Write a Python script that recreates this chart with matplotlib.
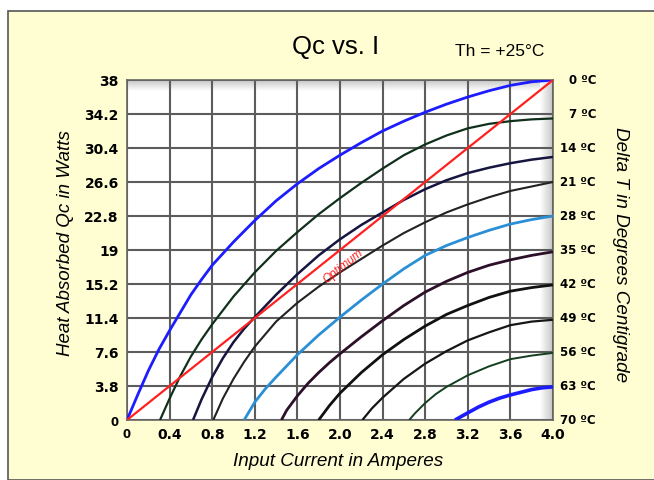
import matplotlib.pyplot as plt
import numpy as np
from matplotlib.patches import Rectangle

plt.rcParams['font.family'] = ['Liberation Sans', 'DejaVu Sans']

# ticks
I_TICKS = [0, 0.4, 0.8, 1.2, 1.6, 2.0, 2.4, 2.8, 3.2, 3.6, 4.0]
I_LABELS = ["0", "0.4", "0.8", "1.2", "1.6", "2.0", "2.4", "2.8", "3.2", "3.6", "4.0"]
Q_TICKS = [0, 3.8, 7.6, 11.4, 15.2, 19, 22.8, 26.6, 30.4, 34.2, 38]
Q_LABELS = ["0", "3.8", "7.6", "11.4", "15.2", "19", "22.8", "26.6", "30.4", "34.2", "38"]
DT_LABELS = ["0 ºC", "7 ºC", "14 ºC", "21 ºC", "28 ºC", "35 ºC",
             "42 ºC", "49 ºC", "56 ºC", "63 ºC", "70 ºC"]

# curves: current (A) -> heat absorbed (W)
i_dt0 = [0, 0.1, 0.2, 0.3, 0.4, 0.5, 0.6, 0.7, 0.8, 1.0, 1.2, 1.4, 1.6, 1.8, 2.0,
         2.2, 2.4, 2.6, 2.8, 3.0, 3.2, 3.4, 3.6, 3.8, 4.0]
q_dt0 = [0, 2.8, 5.5, 7.9, 10.0, 12.0, 14.0, 15.7, 17.3, 19.9, 22.3, 24.5, 26.4, 28.1, 29.6,
         31.0, 32.3, 33.4, 34.4, 35.3, 36.1, 36.8, 37.4, 37.8, 38.0]
i_dt7 = [0.31, 0.4, 0.5, 0.6, 0.7, 0.8, 1.0, 1.2, 1.4, 1.6, 1.8, 2.0, 2.2, 2.4,
         2.6, 2.8, 3.0, 3.2, 3.4, 3.6, 3.8, 4.0]
q_dt7 = [0, 2.4, 4.9, 7.1, 9.0, 10.7, 13.8, 16.5, 18.9, 21.0, 23.0, 24.8, 26.5, 28.1,
         29.6, 30.8, 31.8, 32.6, 33.1, 33.4, 33.6, 33.7]
i_dt14 = [0.62, 0.7, 0.8, 0.9, 1.0, 1.1, 1.2, 1.4, 1.6, 1.8, 2.0, 2.2, 2.4, 2.6,
          2.8, 3.0, 3.2, 3.4, 3.6, 3.8, 4.0]
q_dt14 = [0, 2.3, 4.8, 6.9, 8.7, 10.2, 11.5, 14.0, 16.3, 18.4, 20.2, 21.8, 23.2, 24.6,
          25.8, 26.8, 27.6, 28.2, 28.7, 29.1, 29.4]
i_dt21 = [0.81, 0.9, 1.0, 1.1, 1.2, 1.4, 1.6, 1.8, 2.0, 2.2, 2.4, 2.6, 2.8, 3.0,
          3.2, 3.4, 3.6, 3.8, 4.0]
q_dt21 = [0, 2.4, 4.6, 6.5, 8.2, 11.0, 13.1, 14.9, 16.5, 18.0, 19.5, 20.9, 22.1, 23.2,
          24.1, 24.9, 25.6, 26.1, 26.6]
i_dt28 = [1.10, 1.2, 1.3, 1.4, 1.6, 1.8, 2.0, 2.2, 2.4, 2.6, 2.8, 3.0, 3.2, 3.4,
          3.6, 3.8, 4.0]
q_dt28 = [0, 2.0, 3.5, 4.8, 7.3, 9.5, 11.5, 13.4, 15.2, 16.9, 18.4, 19.5, 20.4, 21.2,
          21.9, 22.4, 22.8]
i_dt35 = [1.45, 1.5, 1.6, 1.7, 1.8, 1.9, 2.0, 2.2, 2.4, 2.6, 2.8, 3.0, 3.2, 3.4,
          3.6, 3.8, 4.0]
q_dt35 = [0, 1.1, 2.7, 4.1, 5.3, 6.4, 7.4, 9.3, 11.1, 12.8, 14.3, 15.5, 16.5, 17.3,
          17.9, 18.4, 18.8]
i_dt42 = [1.80, 1.9, 2.0, 2.2, 2.4, 2.6, 2.8, 3.0, 3.2, 3.4, 3.6, 3.8, 4.0]
q_dt42 = [0, 1.6, 3.0, 5.3, 7.3, 9.0, 10.5, 11.8, 12.8, 13.7, 14.4, 14.8, 15.1]
i_dt49 = [2.21, 2.3, 2.4, 2.6, 2.8, 3.0, 3.2, 3.4, 3.6, 3.8, 4.0]
q_dt49 = [0, 1.3, 2.5, 4.6, 6.3, 7.7, 8.9, 9.8, 10.6, 11.0, 11.2]
i_dt56 = [2.65, 2.7, 2.8, 2.9, 3.0, 3.2, 3.4, 3.6, 3.8, 4.0]
q_dt56 = [0, 0.7, 1.9, 2.9, 3.7, 5.0, 6.0, 6.8, 7.2, 7.5]
i_dt63 = [3.08, 3.2, 3.3, 3.4, 3.5, 3.6, 3.7, 3.8, 3.9, 4.0]
q_dt63 = [0, 0.8, 1.45, 2.0, 2.45, 2.8, 3.1, 3.4, 3.6, 3.7]

# optimum current line
i_opt = [0, 4.0]
q_opt = [0, 38]

CURVES = [
    (i_dt0, q_dt0, "#1c1cff", 2.0),
    (i_dt7, q_dt7, "#10301c", 1.6),
    (i_dt14, q_dt14, "#15153f", 1.8),
    (i_dt21, q_dt21, "#222222", 1.5),
    (i_dt28, q_dt28, "#2b8fd6", 2.0),
    (i_dt35, q_dt35, "#2c1029", 2.0),
    (i_dt42, q_dt42, "#111111", 2.0),
    (i_dt49, q_dt49, "#161616", 1.6),
    (i_dt56, q_dt56, "#143e20", 1.4),
    (i_dt63, q_dt63, "#1c1cff", 2.6),
]

W, H = 654, 481
fig = plt.figure(figsize=(W / 100, H / 100), dpi=100)
fig.patch.set_facecolor("white")
fig.patches.append(Rectangle((8 / W, 0), 1, 1 - 12 / H, transform=fig.transFigure,
                             facecolor="#fffed2", edgecolor="#555555", lw=1.2, zorder=-10))

ax = fig.add_axes([127 / W, 1 - 421 / H, 426 / W, 340 / H])
ax.set_facecolor("white")

# soft inner shading along the top and right edges
grad = np.linspace(0.78, 1.0, 64)
top = np.ones((64, 1, 3)) * grad[:, None, None]
ax.imshow(top, extent=(0, 4.0, 38 - 1.2, 38), aspect="auto", zorder=0.5)
right = np.ones((1, 64, 3)) * grad[::-1][None, :, None]
ax.imshow(right, extent=(4.0 - 0.12, 4.0, 0, 38), aspect="auto", zorder=0.5)
ax.set_xlim(0, 4.0)
ax.set_ylim(0, 38)

ax.set_xticks(I_TICKS)
ax.set_xticklabels(I_LABELS)
ax.set_yticks(Q_TICKS)
ax.set_yticklabels(Q_LABELS)
ax.tick_params(length=0, labelsize=10)
ax.tick_params(axis="x", pad=5)
ax.tick_params(axis="y", pad=6)
for lab in ax.get_xticklabels() + ax.get_yticklabels():
    lab.set_fontweight("bold")
    lab.set_family("DejaVu Sans")
# the zero labels are drawn smaller in the original
ax.get_xticklabels()[0].set_fontsize(8.5)
ax.get_yticklabels()[0].set_fontsize(8.5)
ax.grid(True, color="#5c5c5c", lw=1.5, zorder=1)
ax.set_axisbelow(True)
for s in ax.spines.values():
    s.set_color("#666666")
    s.set_linewidth(1.2)

for xs, ys, c, lw in CURVES:
    ax.plot(xs, ys, color=c, lw=lw, zorder=3, solid_capstyle="butt")
ax.plot(i_opt, q_opt, color="#ff2020", lw=1.6, zorder=4)
ax.text(2.03, 17.3, "Optimum", color="#ff2020", fontsize=8.5, style="italic",
        rotation=38.6, ha="center", va="center", rotation_mode="anchor", zorder=5)

# delta T labels on the right
for q, lab in zip(Q_TICKS[::-1], DT_LABELS):
    ax.annotate(lab, xy=(1.0, q), xycoords=("axes fraction", "data"),
                xytext=(31, 0), textcoords="offset points",
                ha="right", va="center", fontsize=8.5, fontweight="bold",
                family="DejaVu Sans")

fig.text(336 / W, 1 - 47 / H, "Qc vs. I", fontsize=18.5, ha="center", va="center")
fig.text(455 / W, 1 - 52 / H, "Th = +25°C", fontsize=12.5, ha="left", va="center")
fig.text(66 / W, 1 - 243 / H, "Heat Absorbed Qc in Watts", fontsize=13.5,
         style="italic", rotation=90, ha="center", va="center")
fig.text(620 / W, 1 - 255 / H, "Delta T in Degrees Centigrade", fontsize=13.6,
         style="italic", rotation=-90, ha="center", va="center")
fig.text(338 / W, 1 - 462 / H, "Input Current in Amperes", fontsize=13.6,
         style="italic", ha="center", va="center")

fig.savefig("out.png", dpi=100, facecolor=fig.get_facecolor())
